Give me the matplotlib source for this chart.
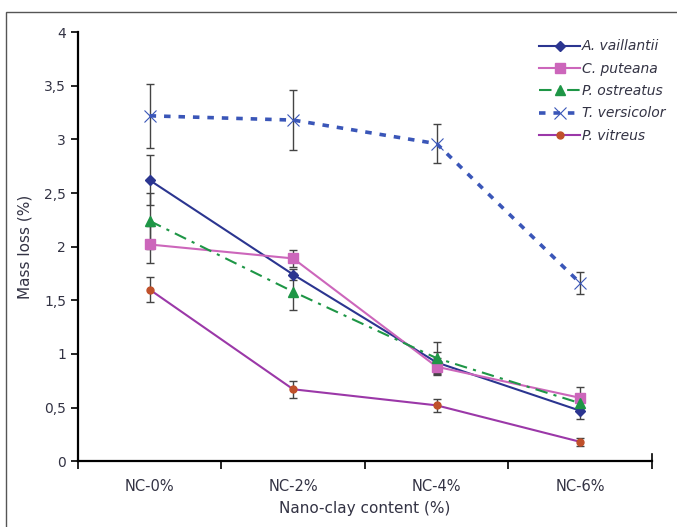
import matplotlib.pyplot as plt
from matplotlib.patches import Rectangle
import numpy as np

plt.rcParams["font.family"] = ["DejaVu Sans"]

categories = ["NC-0%", "NC-2%", "NC-4%", "NC-6%"]
species = ["A. vaillantii", "C. puteana", "P. ostreatus", "T. versicolor", "P. vitreus"]

# mass loss (%) and error for each species
vaillantii = [2.62, 1.74, 0.92, 0.47]
vaillantii_err = [0.23, 0.05, 0.10, 0.08]
puteana = [2.02, 1.89, 0.88, 0.59]
puteana_err = [0.17, 0.08, 0.08, 0.10]
ostreatus = [2.24, 1.58, 0.96, 0.54]
ostreatus_err = [0.26, 0.17, 0.15, 0.06]
versicolor = [3.22, 3.18, 2.96, 1.66]
versicolor_err = [0.30, 0.28, 0.18, 0.10]
vitreus = [1.60, 0.67, 0.52, 0.18]
vitreus_err = [0.12, 0.08, 0.06, 0.04]

yticks = [0, 0.5, 1, 1.5, 2, 2.5, 3, 3.5, 4]
ytick_labels = ["0", "0,5", "1", "1,5", "2", "2,5", "3", "3,5", "4"]

text_color = "#333344"


def plot_chart():
    fig = plt.figure(figsize=(6.77, 5.27), dpi=100)
    ax = fig.add_axes([0.115, 0.125, 0.848, 0.814])
    x = np.arange(len(categories))

    series = [
        (vaillantii, vaillantii_err, dict(color="#2B3590", ls="-", lw=1.5, marker="D", ms=5,
                                          mfc="#2B3590", mec="#2B3590")),
        (puteana, puteana_err, dict(color="#CC66BB", ls="-", lw=1.5, marker="s", ms=7,
                                    mfc="#CC66BB", mec="#CC66BB")),
        (ostreatus, ostreatus_err, dict(color="#1E9646", ls=(0, (6, 3, 1.5, 3)), lw=1.5, marker="^", ms=7,
                                        mfc="#1E9646", mec="#1E9646")),
        (versicolor, versicolor_err, dict(color="#3A56B8", ls=(0, (1.8, 2.2)), lw=2.6, marker="x", ms=8,
                                          mew=0.8, mfc="#3A56B8", mec="#3A56B8")),
        (vitreus, vitreus_err, dict(color="#9B38A8", ls="-", lw=1.5, marker="o", ms=5,
                                    mfc="#C0502A", mec="#C0502A")),
    ]

    handles = []
    for (vals, errs, style), name in zip(series, species):
        ax.errorbar(x, vals, yerr=errs, fmt="none", ecolor="#444444", elinewidth=1.0,
                    capsize=3, capthick=1.0, zorder=2)
        line, = ax.plot(x, vals, label=name, zorder=3, **style)
        handles.append(line)

    ax.set_xlim(-0.5, 3.5)
    ax.set_ylim(0, 4)

    # category labels centred, ticks between categories
    ax.set_xticks(np.arange(-0.5, 4.0, 1.0))
    ax.set_xticklabels([])
    ax.set_xticks(x, minor=True)
    ax.set_xticklabels(categories, minor=True)
    ax.tick_params(axis="x", which="minor", length=0, pad=13, labelsize=10.5, labelcolor=text_color)
    ax.tick_params(axis="x", which="major", length=6, width=1.2, direction="out")

    ax.set_yticks(yticks)
    ax.set_yticklabels(ytick_labels)
    ax.tick_params(axis="y", length=5, width=1.2, direction="out", labelsize=10, labelcolor=text_color)

    ax.spines["top"].set_visible(False)
    ax.spines["right"].set_visible(False)
    ax.spines["left"].set_linewidth(1.6)
    ax.spines["bottom"].set_linewidth(1.6)
    # small end tick at the right of the x axis
    ax.plot([3.5, 3.5], [0, 0.07], color="black", lw=1.2, clip_on=False)

    ax.set_ylabel("Mass loss (%)", fontsize=11, color=text_color, labelpad=8)
    ax.set_xlabel("Nano-clay content (%)", fontsize=11, color=text_color, labelpad=5)

    leg = ax.legend(handles=handles, loc="upper right", bbox_to_anchor=(1.045, 1.012), frameon=False,
                    prop={"style": "italic", "size": 10}, handlelength=2.9, handletextpad=0.15,
                    labelspacing=0.6)
    for t in leg.get_texts():
        t.set_color(text_color)

    # outer frame around the figure
    fig.add_artist(Rectangle((0.009, -0.1), 1.2, 1.077, transform=fig.transFigure,
                             fill=False, edgecolor="#555555", lw=1.0))

    fig.savefig("out.png", dpi=100)


if __name__ == "__main__":
    plot_chart()
